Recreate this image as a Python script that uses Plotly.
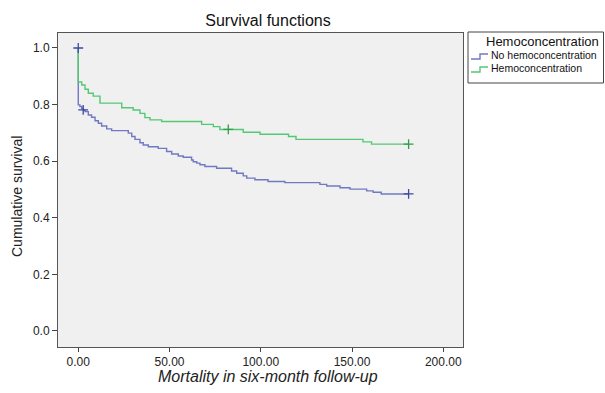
import plotly.graph_objects as go

# ---- data ----
no_hemo_t = [0, 0, 0.9, 1.9, 2.7, 3.7, 5.5, 7.3, 9.2, 11.0, 12.8, 15.6, 18.3, 27.4, 29.3, 31.1,
             33.8, 35.6, 38.4, 43.8, 48.4, 51.2, 54.8, 57.5, 62.1, 63.0, 64.9, 66.7, 69.4, 75.8,
             84.0, 86.8, 90.4, 92.3, 96.8, 104.0, 113.2, 132.4, 136.1, 143.4, 148.9, 158.0,
             161.6, 166.0, 181.0]
no_hemo_s = [1.0, 0.799, 0.793, 0.787, 0.781, 0.775, 0.763, 0.755, 0.743, 0.734, 0.724, 0.714,
             0.708, 0.699, 0.687, 0.677, 0.665, 0.657, 0.651, 0.645, 0.634, 0.625, 0.618, 0.614,
             0.604, 0.598, 0.593, 0.587, 0.581, 0.575, 0.565, 0.557, 0.548, 0.540, 0.534, 0.528,
             0.524, 0.518, 0.512, 0.506, 0.501, 0.495, 0.490, 0.484, 0.484]
no_hemo_cens_t = [0, 2.7, 181.0]
no_hemo_cens_s = [1.0, 0.781, 0.484]

hemo_t = [0, 0, 1.9, 3.7, 5.5, 8.2, 11.9, 23.8, 30.1, 33.8, 36.5, 39.3, 45.7, 67.6, 74.0,
          77.6, 90.4, 99.6, 115.2, 119.3, 156.0, 160.7, 181.0]
hemo_s = [1.0, 0.880, 0.869, 0.854, 0.840, 0.830, 0.805, 0.789, 0.781, 0.769, 0.754, 0.746,
          0.740, 0.730, 0.722, 0.712, 0.702, 0.695, 0.687, 0.677, 0.668, 0.660, 0.660]
hemo_cens_t = [82.2, 181.0]
hemo_cens_s = [0.712, 0.660]

x_ticks = [0, 50, 100, 150, 200]
x_tick_labels = ["0.00", "50.00", "100.00", "150.00", "200.00"]
y_ticks = [0.0, 0.2, 0.4, 0.6, 0.8, 1.0]
y_tick_labels = ["0.0", "0.2", "0.4", "0.6", "0.8", "1.0"]

series_names = ["No hemoconcentration", "Hemoconcentration"]
legend_title = "Hemoconcentration"

BLUE_LINE = "#7078c2"
BLUE_MARK = "#3d4a9e"
GREEN_LINE = "#55c874"
GREEN_MARK = "#2f9c48"
FONT = "Liberation Sans, Arial, sans-serif"

W, H = 605, 393
ML, MR, MT, MB = 58, 142, 33, 46

fig = go.Figure()
fig.add_trace(go.Scatter(x=no_hemo_t, y=no_hemo_s, mode="lines", line_shape="hv",
                         line=dict(color=BLUE_LINE, width=1.4), name=series_names[0],
                         showlegend=False))
fig.add_trace(go.Scatter(x=hemo_t, y=hemo_s, mode="lines", line_shape="hv",
                         line=dict(color=GREEN_LINE, width=1.4), name=series_names[1],
                         showlegend=False))
fig.add_trace(go.Scatter(x=no_hemo_cens_t, y=no_hemo_cens_s, mode="markers",
                         marker=dict(symbol="cross-thin", size=7,
                                     line=dict(color=BLUE_MARK, width=1.3)),
                         showlegend=False))
fig.add_trace(go.Scatter(x=hemo_cens_t, y=hemo_cens_s, mode="markers",
                         marker=dict(symbol="cross-thin", size=7,
                                     line=dict(color=GREEN_MARK, width=1.3)),
                         showlegend=False))

# ---- custom legend (pixel -> paper conversion) ----
pw, ph = W - ML - MR, H - MT - MB
def px(x):
    return (x - ML) / pw
def py(y):
    return 1 - (y - MT) / ph

shapes = [
    dict(type="rect", xref="paper", yref="paper", x0=px(468), x1=px(603.5), y0=py(83), y1=py(32),
         line=dict(color="#444", width=1), fillcolor="white", layer="above"),
]
for yy, col in [(56, BLUE_LINE), (69, GREEN_LINE)]:
    shapes.append(dict(type="path", xref="paper", yref="paper",
                       path=f"M {px(471)},{py(yy+3)} L {px(480)},{py(yy+3)} L {px(480)},{py(yy-2)} L {px(488)},{py(yy-2)}",
                       line=dict(color=col, width=1.4), layer="above"))

annotations = [
    dict(text=legend_title, xref="paper", yref="paper", x=px(601), y=py(41), xanchor="right",
         yanchor="middle", showarrow=False, font=dict(family=FONT, size=13, color="#111")),
    dict(text=series_names[0], xref="paper", yref="paper", x=px(489), y=py(55), xanchor="left",
         yanchor="middle", showarrow=False, font=dict(family=FONT, size=10.5, color="#111")),
    dict(text=series_names[1], xref="paper", yref="paper", x=px(489), y=py(68), xanchor="left",
         yanchor="middle", showarrow=False, font=dict(family=FONT, size=10.5, color="#111")),
    dict(text="Cumulative survival", xref="paper", yref="paper", x=px(17), y=py(197),
         xanchor="center", yanchor="middle", textangle=-90, showarrow=False,
         font=dict(family=FONT, size=14, color="#222")),
    dict(text="<i>Mortality in six-month follow-up</i>", xref="paper", yref="paper",
         x=px(268), y=py(376), xanchor="center", yanchor="middle", showarrow=False,
         font=dict(family=FONT, size=16, color="#222")),
]

fig.update_layout(
    width=W, height=H,
    margin=dict(l=ML, r=MR, t=MT, b=MB),
    paper_bgcolor="white",
    plot_bgcolor="#f0f0f0",
    font=dict(family=FONT, color="#222"),
    title=dict(text="Survival functions", x=px(268), xref="paper", xanchor="center",
               y=1 - 20 / H, yanchor="middle", font=dict(family=FONT, size=16, color="#111")),
    xaxis=dict(range=[-11.1, 210.8], tickvals=x_ticks, ticktext=x_tick_labels,
               ticks="outside", ticklen=4, tickcolor="#444", showgrid=False, zeroline=False,
               showline=True, linecolor="#555", linewidth=1, mirror=True,
               tickfont=dict(size=12, color="#222")),
    yaxis=dict(range=[-0.057, 1.053], tickvals=y_ticks, ticktext=y_tick_labels,
               ticks="outside", ticklen=5, tickcolor="#444", showgrid=False, zeroline=False,
               showline=True, linecolor="#555", linewidth=1, mirror=True,
               tickfont=dict(size=12, color="#222")),
    shapes=shapes,
    annotations=annotations,
    showlegend=False,
)

fig.write_html("out.html")
